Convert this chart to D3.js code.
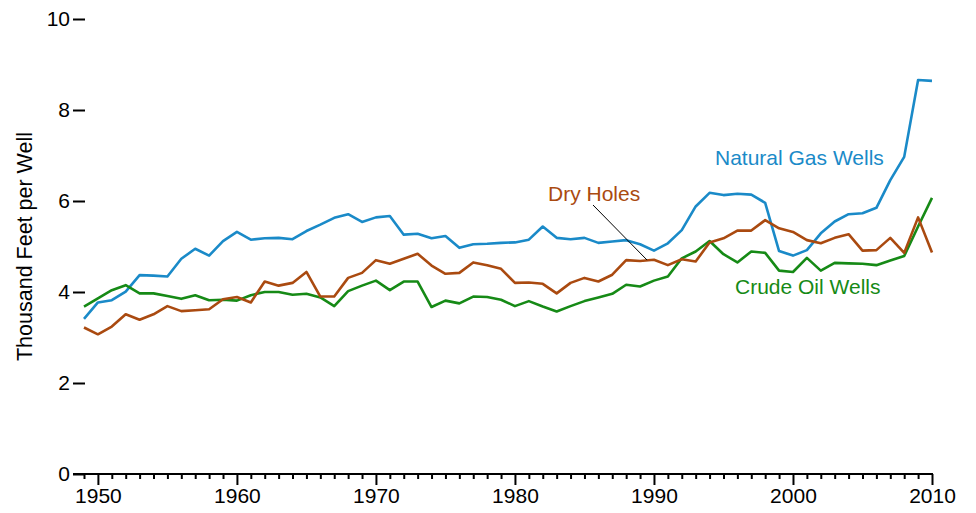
<!DOCTYPE html>
<html>
<head>
<meta charset="utf-8">
<script src="https://cdn.jsdelivr.net/npm/d3@7"></script>
<style>
  html, body { margin: 0; padding: 0; background: #fff; }
  svg { display: block; font-family: "Liberation Sans", Arial, sans-serif; }
</style>
</head>
<body>
<svg id="chart" width="976" height="513"></svg>
<script>
const years = d3.range(1949, 2011);
const naturalGas = [3.41,3.77,3.82,4.01,4.37,4.36,4.34,4.73,4.95,4.80,5.12,5.32,5.15,5.18,5.19,5.16,5.34,5.48,5.63,5.71,5.54,
  5.64,5.67,5.26,5.28,5.18,5.23,4.97,5.05,5.06,5.08,5.09,5.15,5.44,5.19,5.16,5.19,5.08,5.11,5.14,5.05,4.91,
  5.07,5.36,5.88,6.18,6.13,6.16,6.14,5.96,4.90,4.80,4.92,5.29,5.55,5.71,5.73,5.85,6.46,6.97,8.66,8.64];
const crudeOil = [3.68,3.86,4.04,4.15,3.97,3.97,3.91,3.85,3.93,3.82,3.83,3.81,3.93,4.00,4.00,3.94,3.96,3.88,3.69,4.02,4.14,
  4.25,4.04,4.23,4.23,3.67,3.81,3.75,3.90,3.89,3.83,3.69,3.80,3.68,3.57,3.69,3.80,3.88,3.96,4.16,4.12,4.25,
  4.34,4.74,4.89,5.12,4.83,4.65,4.89,4.86,4.47,4.44,4.75,4.47,4.64,4.63,4.62,4.59,4.69,4.79,5.44,6.07];
const dryHoles = [3.22,3.07,3.24,3.51,3.39,3.51,3.69,3.58,3.60,3.62,3.84,3.89,3.77,4.23,4.14,4.20,4.44,3.90,3.90,4.31,4.42,
  4.70,4.62,4.73,4.84,4.58,4.40,4.42,4.65,4.59,4.51,4.20,4.21,4.18,3.97,4.20,4.31,4.23,4.38,4.70,4.68,4.71,
  4.59,4.72,4.67,5.09,5.18,5.35,5.35,5.58,5.40,5.32,5.14,5.07,5.19,5.27,4.91,4.92,5.19,4.86,5.64,4.87];
const yTicks = [0, 2, 4, 6, 8, 10];
const xLabelYears = [1950, 1960, 1970, 1980, 1990, 2000, 2010];
const seriesNames = ["Natural Gas Wells", "Crude Oil Wells", "Dry Holes"];
const seriesColors = ["#1a8ac8", "#168a16", "#aa4a10"];

const FS = 21;
const svg = d3.select("#chart");
const x = d3.scaleLinear().domain([1949, 2010]).range([84, 932]);
const y = d3.scaleLinear().domain([0, 10]).range([474, 19]);

// y ticks (no axis line)
const yAxis = d3.axisLeft(y).tickValues(yTicks).tickSize(12).tickPadding(3).tickFormat(d3.format("d"));
const gy = svg.append("g").attr("transform", "translate(85,0)").call(yAxis);
gy.select(".domain").remove();
gy.selectAll(".tick line").attr("stroke", "#000").attr("stroke-width", 2);
gy.selectAll(".tick text").attr("font-size", FS).attr("fill", "#000").attr("font-family", "Liberation Sans, Arial, sans-serif");

// x axis: line, minor and major ticks
svg.append("line").attr("x1", 73).attr("x2", x(2010) + 1).attr("y1", y(0)).attr("y2", y(0))
  .attr("stroke", "#000").attr("stroke-width", 2);
const minorAxis = d3.axisBottom(x).tickValues(years.filter(v => v % 10 !== 0)).tickSize(5).tickFormat("");
const gm = svg.append("g").attr("transform", `translate(0,${y(0)})`).call(minorAxis);
gm.select(".domain").remove();
gm.selectAll(".tick line").attr("stroke", "#000").attr("stroke-width", 2);
const majorAxis = d3.axisBottom(x).tickValues(xLabelYears).tickSize(11).tickPadding(3).tickFormat(d3.format("d"));
const gx = svg.append("g").attr("transform", `translate(0,${y(0)})`).call(majorAxis);
gx.select(".domain").remove();
gx.selectAll(".tick line").attr("stroke", "#000").attr("stroke-width", 2);
gx.selectAll(".tick text").attr("font-size", FS).attr("fill", "#000").attr("font-family", "Liberation Sans, Arial, sans-serif");

// y label
svg.append("text")
  .attr("transform", `translate(32,${(y(0)+y(10))/2}) rotate(-90)`)
  .attr("text-anchor", "middle")
  .attr("font-size", FS + 0.5)
  .attr("fill", "#000")
  .text("Thousand Feet per Well");

// lines
const line = d3.line().x((d, i) => x(years[i])).y(d => y(d));
[naturalGas, crudeOil, dryHoles].forEach((s, i) => {
  svg.append("path").datum(s).attr("d", line)
    .attr("fill", "none").attr("stroke", seriesColors[i]).attr("stroke-width", 2.6)
    .attr("stroke-linejoin", "round");
});

// leader line for Dry Holes
svg.append("line")
  .attr("x1", 593).attr("y1", 205)
  .attr("x2", x(1989) + 7).attr("y2", y(dryHoles[40]) - 1)
  .attr("stroke", "#000").attr("stroke-width", 1);

// labels
svg.append("text").attr("x", 715).attr("y", 165).attr("font-size", FS).attr("fill", seriesColors[0]).text(seriesNames[0]);
svg.append("text").attr("x", 735).attr("y", 294).attr("font-size", FS).attr("fill", seriesColors[1]).text(seriesNames[1]);
svg.append("text").attr("x", 548).attr("y", 201).attr("font-size", FS).attr("fill", seriesColors[2]).text(seriesNames[2]);
</script>
</body>
</html>
